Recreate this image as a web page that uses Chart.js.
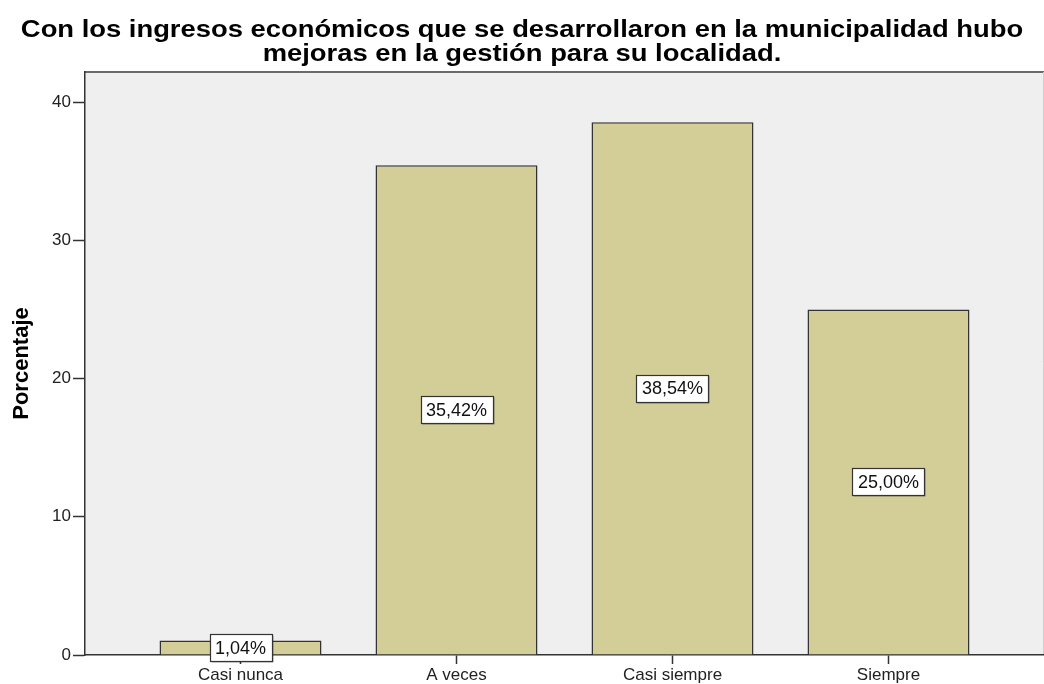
<!DOCTYPE html>
<html>
<head>
<meta charset="utf-8">
<script src="https://cdn.jsdelivr.net/npm/chart.js@4.4.1/dist/chart.umd.min.js"></script>
<style>
  html, body { margin: 0; padding: 0; background: #ffffff; }
  #chart { display: block; }
</style>
</head>
<body>
<canvas id="chart" width="1044" height="684"></canvas>
<script>
const titleLines = [
  "Con los ingresos económicos que se desarrollaron en la municipalidad hubo",
  "mejoras en la gestión para su localidad."
];
const categories = ["Casi nunca", "A veces", "Casi siempre", "Siempre"];
const percentages = [1.04, 35.42, 38.54, 25.00];
const yTicks = [0, 10, 20, 30, 40];
const yTitle = "Porcentaje";

const FONT = "'Liberation Sans', Arial, sans-serif";

function formatPercent(v) {
  return v.toFixed(2).replace(".", ",") + "%";
}

// grey plot background with the dark frame line on top
const plotBackground = {
  id: "plotBackground",
  beforeDraw(chart) {
    const { ctx, chartArea: a } = chart;
    ctx.save();
    ctx.fillStyle = "#efefef";
    ctx.fillRect(a.left, a.top, a.right - a.left, a.bottom - a.top);
    ctx.strokeStyle = "#6a6a6a";
    ctx.lineWidth = 2;
    ctx.beginPath();
    ctx.moveTo(a.left, a.top);
    ctx.lineTo(a.right, a.top);
    ctx.stroke();
    ctx.strokeStyle = "#d0d0d0";
    ctx.lineWidth = 1;
    ctx.beginPath();
    ctx.moveTo(a.right - 0.5, a.top);
    ctx.lineTo(a.right - 0.5, a.bottom);
    ctx.stroke();
    ctx.restore();
  }
};

// wide bold two-line heading above the plot
const wideTitle = {
  id: "wideTitle",
  afterDraw(chart) {
    const { ctx, width } = chart;
    ctx.save();
    ctx.font = "bold 23px " + FONT;
    ctx.fillStyle = "#000000";
    ctx.textAlign = "center";
    ctx.textBaseline = "alphabetic";
    const baselines = [37, 61];
    titleLines.forEach((line, i) => {
      ctx.save();
      ctx.translate(width / 2, baselines[i]);
      ctx.scale(1.19, 1);
      ctx.fillText(line, 0, 0);
      ctx.restore();
    });
    ctx.restore();
  }
};

// boxed value labels in the middle of each bar
const boxedLabels = {
  id: "boxedLabels",
  afterDatasetsDraw(chart) {
    const { ctx } = chart;
    const meta = chart.getDatasetMeta(0);
    ctx.save();
    ctx.font = "18px " + FONT;
    ctx.textAlign = "center";
    ctx.textBaseline = "middle";
    meta.data.forEach((bar, i) => {
      const text = formatPercent(percentages[i]);
      const w = Math.round(ctx.measureText(text).width) + 11;
      const h = 27;
      const cy = (bar.y + bar.base) / 2;
      const x = Math.round(bar.x - w / 2) + 0.5;
      const y = Math.round(cy - h / 2) + 0.5;
      ctx.fillStyle = "rgba(0,0,0,0.35)";
      ctx.fillRect(x + 1, y + 1, w, h);
      ctx.fillStyle = "#ffffff";
      ctx.fillRect(x, y, w, h);
      ctx.strokeStyle = "#333333";
      ctx.lineWidth = 1.2;
      ctx.strokeRect(x, y, w, h);
      ctx.fillStyle = "#111111";
      ctx.fillText(text, bar.x, cy + 1);
    });
    ctx.restore();
  }
};

new Chart(document.getElementById("chart"), {
  type: "bar",
  data: {
    datasets: [
      {
        data: percentages.map((v, i) => ({ x: i, y: v })),
        backgroundColor: "#d3ce98",
        borderColor: "#333333",
        borderWidth: 1.5,
        barPercentage: 0.75,
        categoryPercentage: 1.0,
      },
    ],
  },
  options: {
    responsive: false,
    devicePixelRatio: 1,
    animation: false,
    layout: { padding: { left: 0, right: 0, top: 72, bottom: 0 } },
    plugins: {
      legend: { display: false },
      tooltip: { enabled: false },
      title: { display: false },
    },
    scales: {
      x: {
        type: "linear",
        min: -0.72,
        max: 3.72,
        offset: false,
        grid: {
          offset: false,
          drawOnChartArea: false,
          tickLength: 9,
          tickWidth: 1.5,
          tickColor: "#333333",
        },
        border: { color: "#333333", width: 1.5 },
        afterBuildTicks: (scale) => {
          scale.ticks = categories.map((_, i) => ({ value: i }));
        },
        afterFit: (scale) => {
          scale.height = 29;
        },
        ticks: {
          color: "#222222",
          font: { family: FONT, size: 17 },
          padding: 1,
          maxRotation: 0,
          autoSkip: false,
          callback: (value) => categories[value],
        },
      },
      y: {
        min: 0,
        max: 42.17,
        grid: {
          drawOnChartArea: false,
          tickLength: 12,
          tickWidth: 1.5,
          tickColor: "#333333",
        },
        border: { color: "#333333", width: 1.5 },
        afterBuildTicks: (scale) => {
          scale.ticks = yTicks.map((v) => ({ value: v }));
        },
        afterFit: (scale) => {
          scale.width = 85;
        },
        ticks: {
          color: "#222222",
          font: { family: FONT, size: 17 },
          padding: 2,
        },
        title: {
          display: true,
          text: yTitle,
          color: "#000000",
          font: { family: FONT, size: 22, weight: "bold", lineHeight: 1.0 },
          padding: { top: 11, bottom: 0 },
        },
      },
    },
  },
  plugins: [plotBackground, boxedLabels, wideTitle],
});
</script>
</body>
</html>
